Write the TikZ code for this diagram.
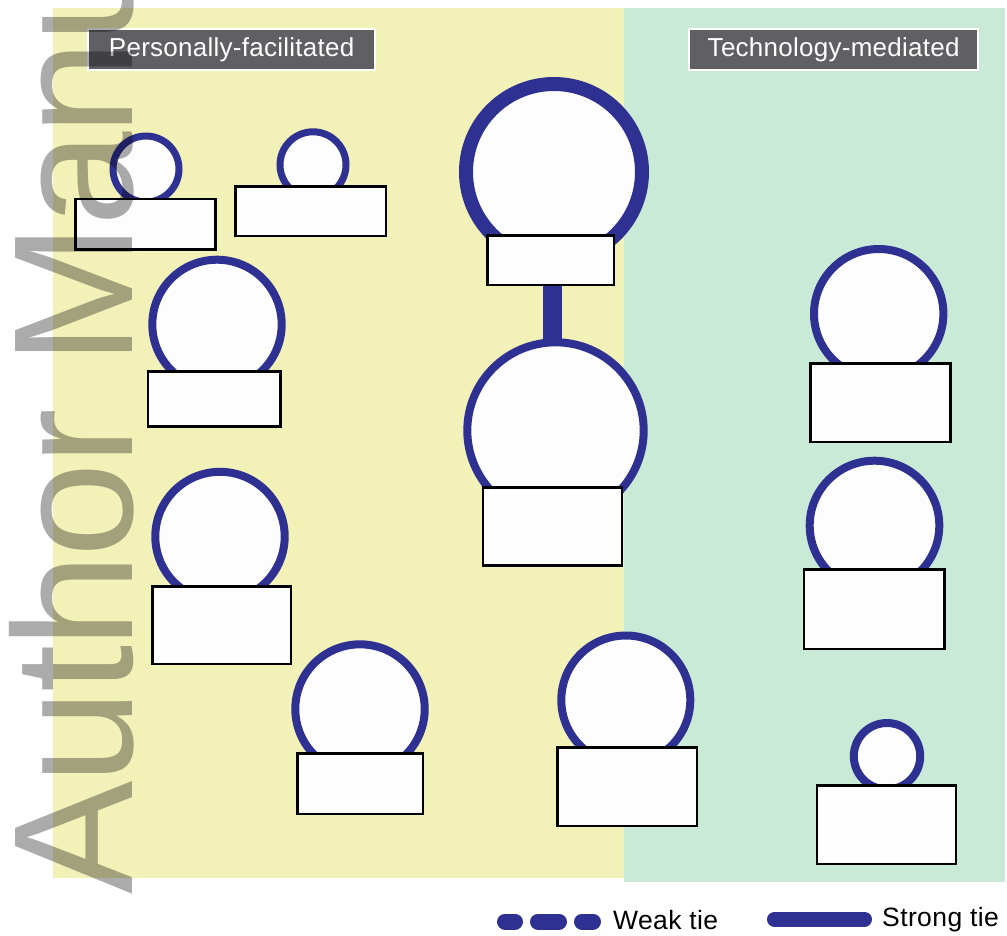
\documentclass[tikz,border=0pt]{standalone}
\usepackage{fontspec}
\setmainfont{Liberation Sans}
\pgfdeclarelayer{back}
\pgfdeclarelayer{mid}
\pgfsetlayers{back,mid,main}
\definecolor{panelY}{RGB}{242,241,184}
\definecolor{panelG}{RGB}{201,234,214}
\definecolor{tieblue}{RGB}{46,49,146}
\definecolor{hdrgray}{RGB}{96,95,100}
\definecolor{nodewhite}{RGB}{253,253,253}
\tikzset{
  person/.style={circle, draw=tieblue, fill=nodewhite, inner sep=0pt, line width=8pt},
  personsmall/.style={person, line width=7pt},
  personbig/.style={person, line width=14pt},
  namebox/.style={rectangle, draw=black, fill=nodewhite, line width=2.5pt, inner sep=0pt},
  header/.style={rectangle, draw=white, fill=hdrgray, line width=2pt, text=white, inner sep=0pt,
     font=\fontsize{26}{30}\selectfont\addfontfeature{LetterSpace=1}},
  legendtext/.style={anchor=base west, inner sep=0pt, font=\fontsize{26.5}{30}\selectfont\addfontfeature{LetterSpace=1.5}},
  strongtie/.style={draw=tieblue, line width=18.5pt},
  legendstrong/.style={draw=tieblue, line width=15pt, line cap=round},
  legendweak/.style={draw=tieblue, line width=16pt, line cap=round,
     dash pattern=on 10pt off 23pt on 21pt off 23pt on 11pt off 40pt},
  watermark/.style={anchor=base west, inner sep=0pt, rotate=90, text=black, text opacity=0.33,
     font=\fontsize{170}{170}\selectfont\addfontfeature{LetterSpace=-1.8}}
}
\begin{document}
\begin{tikzpicture}[x=1pt,y=-1pt]
\useasboundingbox (0,0) rectangle (1007,935);
% panels
\begin{pgfonlayer}{back}
  \fill[panelY] (53,8) rectangle (624,878);
  \fill[panelG] (624,8) rectangle (1005,881.5);
\end{pgfonlayer}
% headers
\node[header, minimum width=286.7pt, minimum height=40.4pt] (h1) at (231.65,49.5) {Personally-facilitated};
\node[header, minimum width=288.7pt, minimum height=41.3pt] (h2) at (833.65,49.35) {Technology-mediated};
% people (circles)
\node[personsmall, minimum size=66pt] (c1) at (146,169) {};
\node[personsmall, minimum size=66pt] (c2) at (313,164.8) {};
\node[personbig, minimum size=176pt] (c3) at (554,172) {};
\node[person, minimum size=176.4pt] (c4) at (555.5,430.5) {};
\node[person, minimum size=129.4pt] (c5) at (217,324.4) {};
\node[person, minimum size=129.4pt] (c6) at (220,536.5) {};
\node[person, minimum size=129.4pt] (c7) at (360,709) {};
\node[person, minimum size=129pt] (c8) at (625.8,700) {};
\node[person, minimum size=129.4pt] (c9) at (878.7,313.7) {};
\node[person, minimum size=129.6pt] (c10) at (874.5,525.5) {};
\node[person, minimum size=66.4pt] (c11) at (887,756.2) {};
% name boxes
\node[namebox, minimum width=140.2pt, minimum height=50.5pt] (b1) at (145.35,224.2) {};
\node[namebox, minimum width=150.8pt, minimum height=49.8pt] (b2) at (310.65,211.15) {};
\node[namebox, minimum width=126.5pt, minimum height=49.5pt] (b3) at (550.5,260) {};
\node[namebox, minimum width=139.1pt, minimum height=78.2pt] (b4) at (552.5,526.35) {};
\node[namebox, minimum width=132.5pt, minimum height=55.2pt] (b5) at (214.2,398.85) {};
\node[namebox, minimum width=138.5pt, minimum height=77.5pt] (b6) at (221.5,625) {};
\node[namebox, minimum width=125.5pt, minimum height=60.5pt] (b7) at (360,783.5) {};
\node[namebox, minimum width=139.8pt, minimum height=78.8pt] (b8) at (627.15,786.65) {};
\node[namebox, minimum width=139.9pt, minimum height=78.5pt] (b9) at (880.5,402.8) {};
\node[namebox, minimum width=140.5pt, minimum height=79.2pt] (b10) at (874.2,609.15) {};
\node[namebox, minimum width=139.1pt, minimum height=78.5pt] (b11) at (886.5,824.5) {};
% strong tie between the two central persons
\begin{pgfonlayer}{mid}
  \draw[strongtie] ([xshift=2pt]b3.south) -- ([xshift=2pt]b3.south |- c4.center);
\end{pgfonlayer}
% legend
\coordinate (wa) at (505,921.5);
\coordinate (wb) at (593,921.5);
\draw[legendweak] (wa) -- (wb);
\node[legendtext] (wl) at (613,929) {Weak tie};
\coordinate (sa) at (774.5,919.2);
\coordinate (sb) at (864.5,919.2);
\draw[legendstrong] (sa) -- (sb);
\node[legendtext] (sl) at (882,926.5) {Strong tie};
% watermark
\begin{scope}
  \clip (0,0) rectangle (1007,935);
  \node[watermark] (wm) at (132,895) {Author Manuscript};
\end{scope}
\end{tikzpicture}
\end{document}
